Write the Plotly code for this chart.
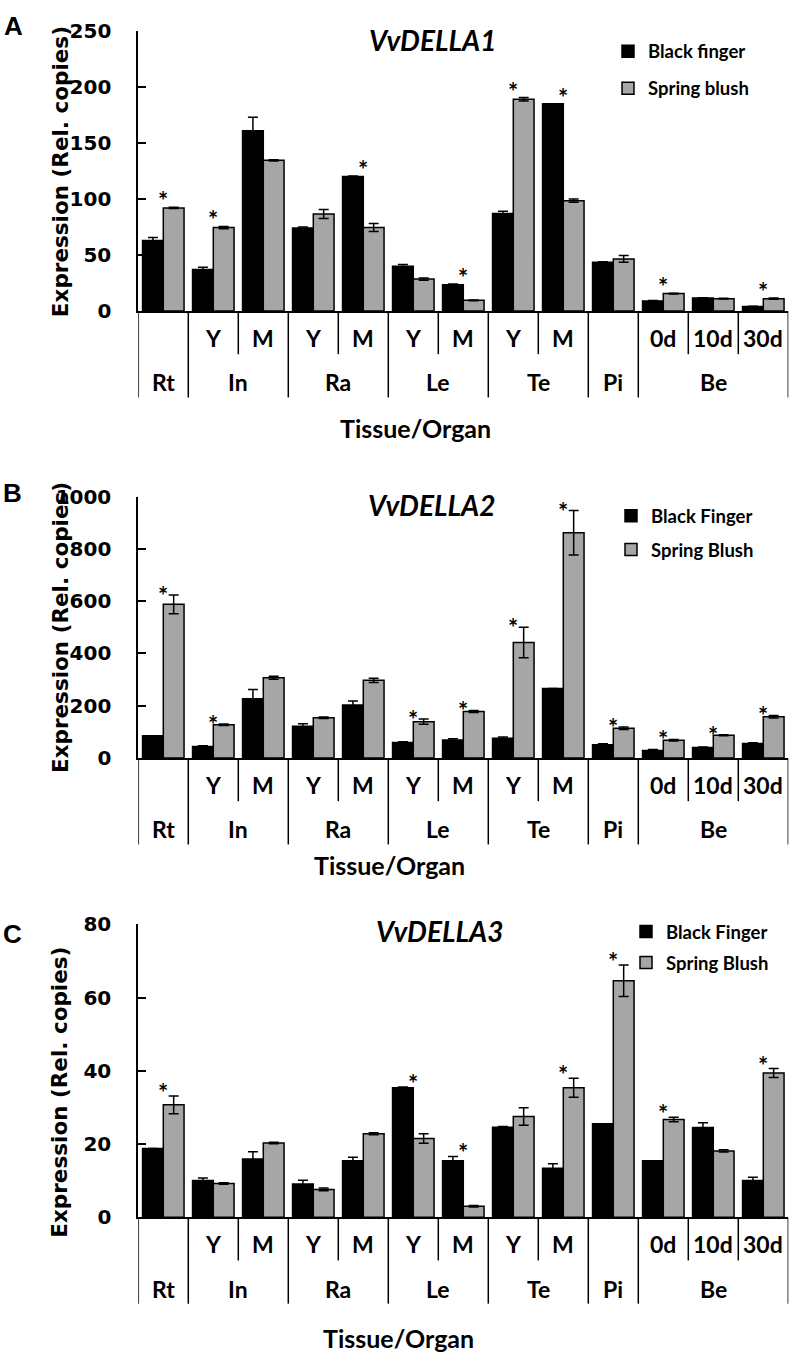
import plotly.graph_objects as go

W, H = 800, 1369

# ---------------- data ----------------
categories = ["Rt", "In-Y", "In-M", "Ra-Y", "Ra-M", "Le-Y", "Le-M",
              "Te-Y", "Te-M", "Pi", "Be-0d", "Be-10d", "Be-30d"]
sub_labels = ["", "Y", "M", "Y", "M", "Y", "M", "Y", "M", "", "0d", "10d", "30d"]
group_labels = ["Rt", "In", "Ra", "Le", "Te", "Pi", "Be"]
group_sizes = [1, 2, 2, 2, 2, 1, 3]

genes = ["VvDELLA1", "VvDELLA2", "VvDELLA3"]
panel_letters = ["A", "B", "C"]
series_names = [["Black finger", "Spring blush"],
                ["Black Finger", "Spring Blush"],
                ["Black Finger", "Spring Blush"]]
y_ticks = [[0, 50, 100, 150, 200, 250],
           [0, 200, 400, 600, 800, 1000],
           [0, 20, 40, 60, 80]]

# VvDELLA1
a_black = [63, 37, 161, 74, 120, 40, 23.5, 87, 185, 43.5, 9, 11.5, 4]
a_black_err = [2.5, 2, 12, 1, 0.5, 1.5, 0.5, 2, 0, 0.5, 0.3, 0.3, 0.3]
a_gray = [92, 74.5, 134.5, 86.5, 74.5, 28.5, 9.5, 189, 98.5, 46.5, 15.5, 11, 11]
a_gray_err = [0.5, 1, 0.5, 4, 3.5, 1, 0.3, 1.5, 1.5, 3, 0.3, 0.3, 0.5]
a_stars = ["Rt", "In-Y", "Ra-M", "Le-M", "Te-Y", "Te-M", "Be-0d", "Be-30d"]

# VvDELLA2
b_black = [85, 44, 227, 121, 203, 59, 69, 76, 266, 51, 29, 40, 55]
b_black_err = [0, 3, 35, 10, 15, 3, 5, 4, 0, 3, 3, 2, 3]
b_gray = [588, 127, 307, 154, 297, 139, 178, 442, 862, 114, 68, 87, 158]
b_gray_err = [36, 3, 6, 3, 8, 10, 4, 58, 85, 5, 3, 2, 5]
b_stars = ["Rt", "In-Y", "Le-Y", "Le-M", "Te-Y", "Te-M", "Pi", "Be-0d", "Be-10d", "Be-30d"]

# VvDELLA3
c_black = [18.8, 10.0, 15.9, 9.1, 15.4, 35.4, 15.4, 24.6, 13.4, 25.5, 15.4, 24.5, 10.0]
c_black_err = [0, 0.7, 2, 1, 1, 0.2, 1.2, 0.2, 1.2, 0, 0, 1.3, 0.9]
c_gray = [30.7, 9.2, 20.3, 7.6, 22.8, 21.5, 3.0, 27.5, 35.4, 64.6, 26.7, 18.1, 39.4]
c_gray_err = [2.4, 0.2, 0.2, 0.4, 0.3, 1.3, 0.2, 2.4, 2.6, 4.3, 0.6, 0.3, 1.2]
c_stars = ["Rt", "Le-Y", "Le-M", "Te-M", "Pi", "Be-0d", "Be-30d"]

blacks = [a_black, b_black, c_black]
black_errs = [a_black_err, b_black_err, c_black_err]
grays = [a_gray, b_gray, c_gray]
gray_errs = [a_gray_err, b_gray_err, c_gray_err]
stars = [a_stars, b_stars, c_stars]

# ---------------- layout geometry (pixels) ----------------
def px(p):
    return p / W

def py(p):
    return 1 - p / H

X_LEFT, X_RIGHT = 138.3, 788.3
panel_top = [19.3, 493.3, 928.7]
panel_bottom = [304.3, 759.3, 1226.7]
ylabel_center = [163, 627, 1100]
ylabel_x = 60
letter_pos = [(13, 14), (12.5, 489.5), (12.5, 938)]
title_pos = [(432.5, 28), (431.5, 502), (439.5, 935)]
legend_pos = [(608, 21), (611, 494), (626, 917)]
legend_gap = [10, 6.6, 4]
sub_dy = [28, 27.4, 27.6]
grp_dy = [72.4, 72.4, 73.3]
tissue_dy = [119, 109, 123.3]
tissue_x = [415, 389, 398]
star_gap = [13, 6, 10]
STAR_SIZE = 24

LATO = "Lato"
BLACK = "#000000"
GRAY = "#a6a6a6"

fig = go.Figure()
annotations = []
shapes = []
xs = list(range(len(categories)))

for k in range(3):
    sfx = "" if k == 0 else str(k + 1)
    xa, ya = "x" + sfx, "y" + sfx
    leg = "legend" + sfx
    fig.add_trace(go.Bar(
        x=xs, y=blacks[k], name=series_names[k][0],
        marker=dict(color=BLACK, line=dict(color=BLACK, width=1.5)),
        error_y=dict(type="data", array=black_errs[k], visible=True,
                     color=BLACK, thickness=1.5, width=5),
        xaxis=xa, yaxis=ya, legend=leg, legendgroup=f"p{k}b",
        hoverinfo="skip"))
    fig.add_trace(go.Bar(
        x=xs, y=grays[k], name=series_names[k][1],
        marker=dict(color=GRAY, line=dict(color=BLACK, width=1.5)),
        error_y=dict(type="data", array=gray_errs[k], visible=True,
                     color=BLACK, thickness=1.5, width=5),
        xaxis=xa, yaxis=ya, legend=leg, legendgroup=f"p{k}g",
        hoverinfo="skip"))

    axis_key_x = "xaxis" + sfx
    axis_key_y = "yaxis" + sfx
    fig.update_layout(**{
        axis_key_x: dict(domain=[px(X_LEFT), px(X_RIGHT)], range=[-0.5, 12.5],
                         anchor=ya, showticklabels=False, ticks="",
                         showline=True, linewidth=2, linecolor=BLACK,
                         showgrid=False, zeroline=False, fixedrange=True),
        axis_key_y: dict(domain=[py(panel_bottom[k]), py(panel_top[k])],
                         range=[0, y_ticks[k][-1]], tickvals=y_ticks[k],
                         anchor=xa, ticks="inside", ticklen=8, tickwidth=2,
                         tickcolor=BLACK, showline=True, linewidth=2,
                         linecolor=BLACK, showgrid=False, zeroline=False,
                         ticklabelstandoff=21,
                         tickfont=dict(family="DejaVu Sans", size=20,
                                       color=BLACK, weight="bold"),
                         fixedrange=True),
        leg: dict(x=px(legend_pos[k][0]), y=py(legend_pos[k][1]),
                  xanchor="left", yanchor="top", xref="paper", yref="paper",
                  bgcolor="rgba(0,0,0,0)", traceorder="grouped",
                  tracegroupgap=legend_gap[k],
                  font=dict(family=LATO, size=18.5, color=BLACK, weight="bold")),
    })

    y0 = panel_bottom[k]
    # separators below the x axis (long between groups, short within groups)
    start = 0
    bounds_long = [-0.5]
    bounds_short = []
    for gs in group_sizes:
        for j in range(gs - 1):
            bounds_short.append(start + j + 0.5)
        start += gs
        bounds_long.append(start - 0.5)
    for b in bounds_long:
        shapes.append(dict(type="line", xref=xa, yref="paper", x0=b, x1=b,
                           y0=py(y0), y1=py(y0 + 88),
                           line=dict(color=BLACK, width=1.5)))
    for b in bounds_short:
        shapes.append(dict(type="line", xref=xa, yref="paper", x0=b, x1=b,
                           y0=py(y0), y1=py(y0 + 44),
                           line=dict(color=BLACK, width=1.5)))
    # sub-category labels
    for i, s in enumerate(sub_labels):
        if s:
            annotations.append(dict(x=i, y=py(y0 + sub_dy[k]), xref=xa, yref="paper",
                                    text=s, showarrow=False, xanchor="center",
                                    yanchor="middle",
                                    font=dict(family=LATO, size=23, color=BLACK,
                                              weight="bold")))
    # group labels
    start = 0
    for g, gs in zip(group_labels, group_sizes):
        cx = start + (gs - 1) / 2
        annotations.append(dict(x=cx, y=py(y0 + grp_dy[k]), xref=xa, yref="paper",
                                text=g, showarrow=False, xanchor="center",
                                yanchor="middle",
                                font=dict(family=LATO, size=23, color=BLACK,
                                          weight="bold")))
        start += gs
    # x-axis title
    annotations.append(dict(x=px(tissue_x[k]), y=py(y0 + tissue_dy[k]), xref="paper",
                            yref="paper", text="Tissue/Organ", showarrow=False,
                            xanchor="center", yanchor="middle",
                            font=dict(family=LATO, size=25, color=BLACK, weight="bold")))
    # y-axis title
    annotations.append(dict(x=px(ylabel_x), y=py(ylabel_center[k]), xref="paper",
                            yref="paper",
                            text="Expression (Rel. copies)", textangle=-90,
                            showarrow=False, xanchor="center", yanchor="middle",
                            font=dict(family="DejaVu Sans", size=21.5, color=BLACK,
                                      weight="bold")))
    # panel letter
    annotations.append(dict(x=px(letter_pos[k][0]), y=py(letter_pos[k][1]),
                            xref="paper", yref="paper", text=panel_letters[k],
                            showarrow=False, xanchor="center", yanchor="middle",
                            font=dict(family="Liberation Sans", size=26, color=BLACK,
                                      weight="bold")))
    # gene title
    annotations.append(dict(x=px(title_pos[k][0]), y=py(title_pos[k][1]),
                            xref="paper", yref="paper",
                            text="<b><i>" + genes[k] + "</i></b>",
                            showarrow=False, xanchor="center", yanchor="middle",
                            font=dict(family=LATO, size=28, color=BLACK)))
    # significance stars above the taller bar of each marked category
    for name in stars[k]:
        i = categories.index(name)
        top = max(blacks[k][i] + black_errs[k][i], grays[k][i] + gray_errs[k][i])
        annotations.append(dict(x=i, y=top, xref=xa, yref=ya, text="*",
                                showarrow=False, xanchor="center", yanchor="bottom",
                                yshift=star_gap[k] - 0.75 * STAR_SIZE - 5,
                                font=dict(family=LATO, size=STAR_SIZE, color=BLACK,
                                          weight="bold")))

fig.update_layout(
    width=W, height=H,
    margin=dict(l=0, r=0, t=0, b=0),
    paper_bgcolor="white", plot_bgcolor="white",
    barmode="group", bargap=0.17, bargroupgap=0,
    showlegend=True,
    annotations=annotations, shapes=shapes,
)

fig.write_html("out.html", config={"displayModeBar": False},
               post_script="document.body.style.margin='0px';"
                           "document.body.style.padding='0px';")
